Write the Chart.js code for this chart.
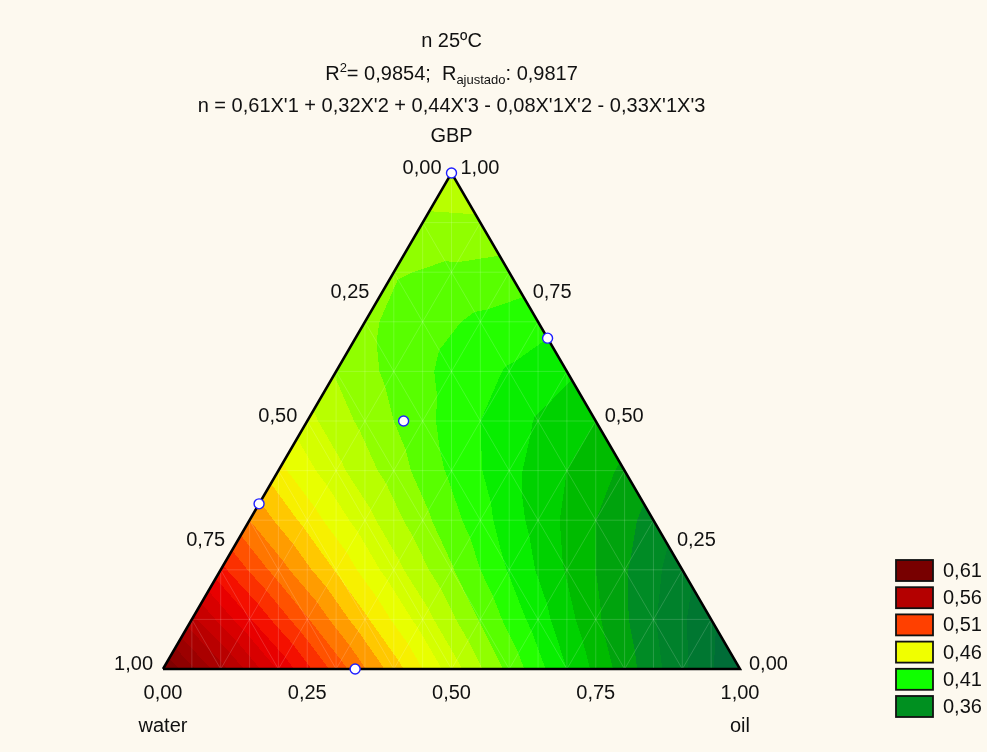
<!DOCTYPE html>
<html>
<head>
<meta charset="utf-8">
<script src="https://cdn.jsdelivr.net/npm/chart.js@4/dist/chart.umd.min.js"></script>
<style>
  html, body { margin: 0; padding: 0; background: #fdf9ef; }
  #wrap { width: 987px; height: 752px; }
</style>
</head>
<body>
<div id="wrap"><canvas id="grafico" width="987" height="752"></canvas></div>
<script>
// ternario water / oil / GBP, resposta n a 25ºC
const titulo = 'n 25ºC';
const r2 = '0,9854';
const r2Ajustado = '0,9817';
const coefTermos = ["X'1", "X'2", "X'3", "X'1X'2", "X'1X'3"];
const coefValores = [0.61, 0.32, 0.44, -0.08, -0.33];

// valores de n: uma linha por GBP (0,0 .. 1,0), colunas oil = 0,0 .. 1-GBP (passo 0,1)
const nGBP00 = [0.610, 0.574, 0.539, 0.506, 0.475, 0.445, 0.417, 0.390, 0.365, 0.342, 0.320];
const nGBP01 = [0.563, 0.531, 0.501, 0.472, 0.445, 0.419, 0.395, 0.372, 0.351, 0.332];
const nGBP02 = [0.523, 0.495, 0.469, 0.444, 0.421, 0.399, 0.379, 0.361, 0.344];
const nGBP03 = [0.490, 0.466, 0.444, 0.423, 0.404, 0.386, 0.370, 0.356];
const nGBP04 = [0.463, 0.443, 0.425, 0.408, 0.393, 0.380, 0.368];
const nGBP05 = [0.443, 0.427, 0.413, 0.400, 0.389, 0.380];
const nGBP06 = [0.429, 0.417, 0.407, 0.399, 0.392];
const nGBP07 = [0.422, 0.414, 0.408, 0.404];
const nGBP08 = [0.421, 0.418, 0.416];
const nGBP09 = [0.427, 0.428];
const nGBP10 = [0.440];
const superficie = [nGBP00, nGBP01, nGBP02, nGBP03, nGBP04, nGBP05, nGBP06, nGBP07, nGBP08, nGBP09, nGBP10];

// pontos experimentais (circulos azuis)
const pontosWater = [0, 0, 0.333, 0.667, 0.667];
const pontosOil = [0, 0.333, 0.167, 0, 0.333];
const pontosGBP = [1, 0.667, 0.5, 0.333, 0];

const tickValores = [0, 0.25, 0.5, 0.75, 1];
const tickRotulos = ['0,00', '0,25', '0,50', '0,75', '1,00'];

const legendaNiveis = [0.61, 0.56, 0.51, 0.46, 0.41, 0.36];

// estilos
const legendaCores = ['#780000', '#b40000', '#ff4000', '#f0ff00', '#10ff00', '#009020'];
const escalaNiveis = [0.32, 0.356, 0.37, 0.39, 0.40, 0.41, 0.42, 0.43, 0.44, 0.45, 0.46, 0.47, 0.48, 0.49, 0.51, 0.53, 0.56, 0.61];
const escalaCores = ['#00683a', '#008c24', '#00b000', '#00dd00', '#10ff00', '#38ff00', '#78ff00', '#a8ff00',
  '#c8ff00', '#e0ff00', '#f0ff00', '#ffe000', '#ffb000', '#ff8800', '#ff4000', '#f00000', '#c00000', '#780000'];
const passoFaixa = 0.01;
const fonte = '"Liberation Sans", Arial, sans-serif';
const corFundo = '#fdf9ef';

const virgula = v => Math.abs(v).toFixed(2).replace('.', ',');

function hexRgb(h) {
  return [parseInt(h.slice(1, 3), 16), parseInt(h.slice(3, 5), 16), parseInt(h.slice(5, 7), 16)];
}
const escalaRgb = escalaCores.map(hexRgb);

function corDoValor(v) {
  const vq = 0.36 + (Math.floor((v - 0.36) / passoFaixa + 1e-9) + 0.5) * passoFaixa;
  if (vq <= escalaNiveis[0]) return escalaRgb[0];
  for (let k = 1; k < escalaNiveis.length; k++) {
    if (vq <= escalaNiveis[k]) {
      const t = (vq - escalaNiveis[k - 1]) / (escalaNiveis[k] - escalaNiveis[k - 1]);
      const a = escalaRgb[k - 1], b = escalaRgb[k];
      return [a[0] + (b[0] - a[0]) * t, a[1] + (b[1] - a[1]) * t, a[2] + (b[2] - a[2]) * t];
    }
  }
  return escalaRgb[escalaRgb.length - 1];
}

// valor dentro de uma celula triangular da grade
function valorEm(g, o) {
  const gg = g * 10, oo = o * 10;
  let gi = Math.max(0, Math.min(Math.floor(gg), 9));
  let oj = Math.max(0, Math.min(Math.floor(oo), 9));
  while (gi + oj > 9) { if (oj > 0) oj--; else gi--; }
  const fg = gg - gi, fo = oo - oj;
  const v00 = superficie[gi][oj];
  const v10 = superficie[gi + 1][oj];
  const v01 = superficie[gi][oj + 1];
  if (fg + fo <= 1 || gi + oj > 8) return v00 * (1 - fg - fo) + v10 * fg + v01 * fo;
  const v11 = superficie[gi + 1][oj + 1];
  return v11 * (fg + fo - 1) + v10 * (1 - fo) + v01 * (1 - fg);
}

// coordenadas cartesianas do ternario: x = oil + GBP/2, y = GBP
const ternXY = (w, o, g) => ({ x: o + g / 2, y: g });

const pluginTernario = {
  id: 'ternario',
  beforeDraw(chart) {
    const ctx = chart.ctx;
    ctx.save();
    ctx.fillStyle = corFundo;
    ctx.fillRect(0, 0, chart.width, chart.height);
    ctx.restore();
  },
  beforeDatasetsDraw(chart) {
    const ctx = chart.ctx;
    const xs = chart.scales.x, ys = chart.scales.y;
    const area = chart.chartArea;
    const L = Math.floor(area.left), T = Math.floor(area.top);
    const W = Math.ceil(area.right) - L + 1, H = Math.ceil(area.bottom) - T + 1;
    const off = document.createElement('canvas');
    off.width = W; off.height = H;
    const octx = off.getContext('2d');
    const img = octx.createImageData(W, H);
    const colX = [];
    for (let px = 0; px < W; px++) colX.push(xs.getValueForPixel(L + px + 0.5));
    const tol = 0.0015;
    for (let py = 0; py < H; py++) {
      const g = ys.getValueForPixel(T + py + 0.5);
      if (g < -tol || g > 1 + tol) continue;
      for (let px = 0; px < W; px++) {
        const o = colX[px] - g / 2;
        const w = 1 - g - o;
        if (o < -tol || w < -tol) continue;
        const gc = Math.min(1, Math.max(0, g));
        const oc = Math.min(1 - gc, Math.max(0, o));
        const c = corDoValor(valorEm(gc, oc));
        const k = (py * W + px) * 4;
        img.data[k] = c[0]; img.data[k + 1] = c[1]; img.data[k + 2] = c[2]; img.data[k + 3] = 255;
      }
    }
    octx.putImageData(img, 0, 0);
    ctx.drawImage(off, L, T);

    // malha clara da triangulacao
    const P = (x, y) => [xs.getPixelForValue(x), ys.getPixelForValue(y)];
    ctx.save();
    ctx.beginPath();
    const a = P(0, 0), b = P(1, 0), c = P(0.5, 1);
    ctx.moveTo(a[0], a[1]); ctx.lineTo(b[0], b[1]); ctx.lineTo(c[0], c[1]); ctx.closePath();
    ctx.clip();
    ctx.strokeStyle = 'rgba(255,255,255,0.16)';
    ctx.lineWidth = 1;
    const linha = (p, q) => { ctx.beginPath(); ctx.moveTo(p[0], p[1]); ctx.lineTo(q[0], q[1]); ctx.stroke(); };
    for (let k = 1; k < 20; k++) linha(P(k * 0.05, 0), P(k * 0.05, 1));
    for (let k = 1; k < 10; k++) linha(P(0, k * 0.1), P(1, k * 0.1));
    for (let k = 1; k < 10; k++) {
      const v = k * 0.1;
      linha(P(v, 0), P(v + (1 - v) / 2, 1 - v));
      linha(P(1 - v, 0), P((1 - v) / 2, 1 - v));
    }
    ctx.restore();
  },
  afterDraw(chart) {
    const ctx = chart.ctx;
    const xs = chart.scales.x, ys = chart.scales.y;
    const P = (p) => [xs.getPixelForValue(p.x), ys.getPixelForValue(p.y)];
    const big = '20px ' + fonte, small = '13px ' + fonte;
    ctx.save();
    ctx.fillStyle = '#111';
    ctx.textBaseline = 'alphabetic';
    const topo = P(ternXY(0, 0, 1));
    const cx = topo[0];

    ctx.font = big;
    ctx.textAlign = 'center';
    ctx.fillText(titulo, cx, 47);

    // R² e R ajustado com sobrescrito / subscrito
    const partes = [
      { t: 'R', f: big, dy: 0 },
      { t: '2', f: small, dy: -8 },
      { t: '= ' + r2 + ';  R', f: big, dy: 0 },
      { t: 'ajustado', f: small, dy: 4 },
      { t: ': ' + r2Ajustado, f: big, dy: 0 }
    ];
    let total = 0;
    partes.forEach(p => { ctx.font = p.f; p.w = ctx.measureText(p.t).width; total += p.w; });
    let xx = cx - total / 2;
    ctx.textAlign = 'left';
    partes.forEach(p => { ctx.font = p.f; ctx.fillText(p.t, xx, 80 + p.dy); xx += p.w; });

    let eq = 'n = ';
    coefValores.forEach((v, i) => {
      if (i > 0) eq += v < 0 ? ' - ' : ' + ';
      eq += virgula(v) + coefTermos[i];
    });
    ctx.font = big;
    ctx.textAlign = 'center';
    ctx.fillText(eq, cx, 112);
    ctx.fillText('GBP', cx, 142);

    // rotulos dos eixos
    tickValores.forEach((t, i) => {
      // water (lado esquerdo)
      const pe = P(ternXY(t, 0, 1 - t));
      ctx.textAlign = 'right';
      ctx.fillText(tickRotulos[i], pe[0] - 10, pe[1] + 1);
      // GBP (lado direito)
      const pd = P(ternXY(0, 1 - t, t));
      ctx.textAlign = 'left';
      ctx.fillText(tickRotulos[i], pd[0] + 9, pd[1] + 1);
      // oil (base)
      const pb = P(ternXY(1 - t, t, 0));
      ctx.textAlign = 'center';
      ctx.fillText(tickRotulos[i], pb[0], pb[1] + 30);
    });
    const cw = P(ternXY(1, 0, 0)), co = P(ternXY(0, 1, 0));
    ctx.textAlign = 'center';
    ctx.fillText('water', cw[0], cw[1] + 63);
    ctx.fillText('oil', co[0], co[1] + 63);

    // legenda
    legendaNiveis.forEach((nv, i) => {
      const y = 560 + i * 27.2;
      ctx.fillStyle = legendaCores[i];
      ctx.fillRect(896, y, 37, 21);
      ctx.strokeStyle = '#111';
      ctx.lineWidth = 1.8;
      ctx.strokeRect(896, y, 37, 21);
      ctx.fillStyle = '#111';
      ctx.textAlign = 'left';
      ctx.fillText(virgula(nv), 943, y + 17);
    });
    ctx.restore();
  }
};

const pontos = pontosWater.map((w, i) => ternXY(w, pontosOil[i], pontosGBP[i]));
const contorno = [ternXY(1, 0, 0), ternXY(0, 1, 0), ternXY(0, 0, 1), ternXY(1, 0, 0)];

new Chart(document.getElementById('grafico'), {
  type: 'scatter',
  data: {
    datasets: [
      {
        label: 'pontos',
        data: pontos,
        pointRadius: 5,
        pointBorderWidth: 1.4,
        pointBorderColor: '#1f1fff',
        pointBackgroundColor: '#ffffff',
        clip: false
      },
      {
        label: 'triangulo',
        data: contorno,
        showLine: true,
        borderColor: '#000000',
        borderWidth: 2.5,
        borderJoinStyle: 'miter',
        pointRadius: 0,
        tension: 0,
        clip: false
      }
    ]
  },
  options: {
    responsive: false,
    devicePixelRatio: 1,
    animation: false,
    layout: { padding: { left: 163, right: 247, top: 173, bottom: 83 } },
    scales: {
      x: { type: 'linear', min: 0, max: 1, display: false },
      y: { type: 'linear', min: 0, max: 1, display: false }
    },
    plugins: {
      legend: { display: false },
      tooltip: { enabled: false },
      title: { display: false }
    }
  },
  plugins: [pluginTernario]
});
</script>
</body>
</html>
